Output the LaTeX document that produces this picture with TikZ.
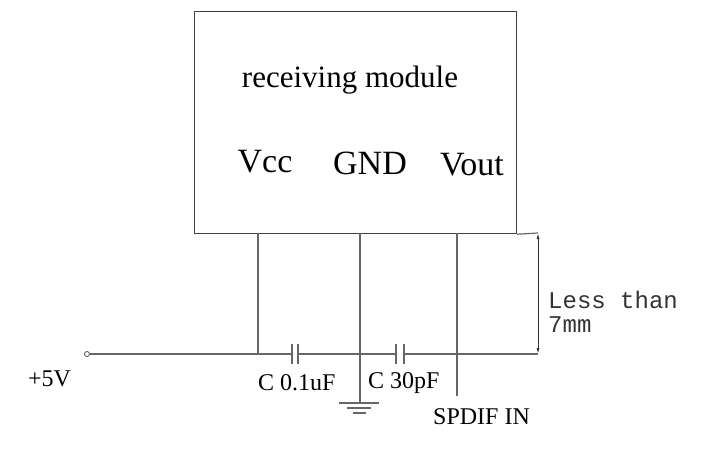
\documentclass[tikz,border=0pt]{standalone}
\usepackage{fontspec}
\setmainfont{Liberation Serif}
\newfontfamily\monof{Liberation Mono}
\usetikzlibrary{arrows.meta}
\begin{document}
\begin{tikzpicture}[x=1pt,y=-1pt,
  wire/.style={draw=black!60,line width=1.2pt},
  lbl/.style={inner sep=0pt,font=\fontsize{24}{26}\selectfont},
  pin/.style={inner sep=0pt,font=\fontsize{34}{36}\selectfont},
  mono/.style={inner sep=0pt,anchor=west,font=\monof\fontsize{24}{26}\selectfont,text=black!80}]
\useasboundingbox (0,0) rectangle (701,449);
\node[draw=black!75,line width=1.2pt,minimum width=322pt,minimum height=222pt,inner sep=0pt,anchor=north west] (box) at (194,11) {};
\node[inner sep=0pt,font=\fontsize{31}{33}\selectfont] (title) at (350,80) {receiving module};
\node[pin] (vcc) at (265,162) {Vcc};
\node[pin] (gnd) at (370,163) {GND};
\node[pin] (vout) at (472,165) {Vout};
\coordinate (pv) at (258,233);
\coordinate (pg) at (360,233);
\coordinate (po) at (457,233);
\coordinate (jv) at (258,354);
\coordinate (jg) at (360,354);
\coordinate (jo) at (457,354);
\coordinate (c1a) at (292,354);
\coordinate (c1b) at (298,354);
\coordinate (c2a) at (396,354);
\coordinate (c2b) at (404,354);
\coordinate (gbot) at (360,403);
\coordinate (obot) at (457,396);
\coordinate (rend) at (538,354);
\coordinate (btop) at (538,233);
\node[draw=black!70,circle,minimum size=5pt,inner sep=0pt,line width=0.8pt] (term) at (87,354) {};
\draw[wire] (term) -- (c1a);
\draw[wire] (c1b) -- (c2a);
\draw[wire] (c2b) -- (rend);
\draw[wire] (c1a) ++(0,-10) -- ++(0,20);
\draw[wire] (c1b) ++(0,-10) -- ++(0,20);
\draw[wire] (c2a) ++(0,-10) -- ++(0,20);
\draw[wire] (c2b) ++(0,-10) -- ++(0,20);
\draw[wire] (pv) -- (jv);
\draw[wire] (pg) -- (gbot);
\draw[wire] (po) -- (obot);
\draw[wire] (box.south east) -- (btop);
\draw[wire] (339,403) -- (379,403);
\draw[wire] (347,408) -- (371,408);
\draw[wire] (353,413) -- (366,413);
\draw[black!80,line width=1pt,{Latex[length=6pt,width=3pt]}-{Latex[length=6pt,width=3pt]}] (btop) -- (rend);
\node[lbl,anchor=west] (p5) at (28,379) {+5V};
\node[lbl,anchor=west] (cl1) at (258,383) {C 0.1uF};
\node[lbl,anchor=west] (cl2) at (368,383) {C 30pF};
\node[lbl,anchor=west] (sp) at (433,417) {SPDIF IN};
\node[mono] (lt1) at (548,300) {Less than};
\node[mono] (lt2) at (548,325) {7mm};
\end{tikzpicture}
\end{document}
